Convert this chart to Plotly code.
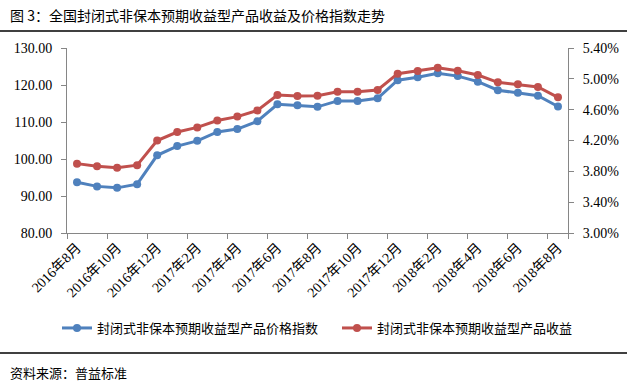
import plotly.graph_objects as go

months = ["2016年8月", "2016年9月", "2016年10月", "2016年11月", "2016年12月",
          "2017年1月", "2017年2月", "2017年3月", "2017年4月", "2017年5月",
          "2017年6月", "2017年7月", "2017年8月", "2017年9月", "2017年10月",
          "2017年11月", "2017年12月", "2018年1月", "2018年2月", "2018年3月",
          "2018年4月", "2018年5月", "2018年6月", "2018年7月", "2018年8月"]

price_index = [93.7, 92.6, 92.2, 93.2, 101.0, 103.5, 104.9, 107.3, 108.1, 110.2,
               114.8, 114.5, 114.1, 115.7, 115.7, 116.4, 121.3, 122.1, 123.2, 122.4,
               120.9, 118.6, 117.9, 117.1, 114.2]

yield_pct = [3.90, 3.865, 3.845, 3.88, 4.20, 4.31, 4.37, 4.46, 4.51, 4.59,
             4.79, 4.777, 4.78, 4.833, 4.833, 4.855, 5.067, 5.102, 5.144, 5.105,
             5.05, 4.955, 4.929, 4.894, 4.76]

tick_labels = months[::2]

name_index = "封闭式非保本预期收益型产品价格指数"
name_yield = "封闭式非保本预期收益型产品收益"
title_text = "图 3：全国封闭式非保本预期收益型产品收益及价格指数走势"
source_text = "资料来源：普益标准"

BLUE = "#4F81BD"
RED = "#C0504D"
AXIS = "#868686"
SERIF = "Liberation Serif, Noto Sans CJK SC"
CJK = "Noto Sans CJK SC"

fig = go.Figure()
fig.add_trace(go.Scatter(x=months, y=price_index, name=name_index, mode="lines+markers",
                         line=dict(color=BLUE, width=3), marker=dict(size=8, color=BLUE),
                         yaxis="y"))
fig.add_trace(go.Scatter(x=months, y=yield_pct, name=name_yield, mode="lines+markers",
                         line=dict(color=RED, width=3), marker=dict(size=8, color=RED),
                         yaxis="y2"))

W, H = 644, 387
L, R, T, B = 67, 568, 48, 233
pw, ph = R - L, B - T


def px(x):
    return (x - L) / pw


def py(y):
    return (B - y) / ph


fig.update_layout(
    width=W, height=H,
    margin=dict(l=L, r=W - R, t=T, b=H - B),
    plot_bgcolor="white", paper_bgcolor="white",
    showlegend=True,
    xaxis=dict(type="category", categoryorder="array", categoryarray=months,
               range=[-0.5, 24.5], tickmode="array", tickvals=tick_labels,
               ticktext=tick_labels, tickson="boundaries", ticks="outside",
               ticklen=5, tickcolor=AXIS, showline=True, linecolor=AXIS, linewidth=1,
               showgrid=False, zeroline=False, tickangle=-45, automargin=False,
               tickfont=dict(family=SERIF, size=14, color="black")),
    yaxis=dict(range=[80, 130], dtick=10, tick0=80, tickformat=".2f",
               ticks="outside", ticklen=5, tickcolor=AXIS, showline=True,
               linecolor=AXIS, linewidth=1, showgrid=False, zeroline=False,
               ticklabelstandoff=6, automargin=False,
               tickfont=dict(family=SERIF, size=14, color="black")),
    yaxis2=dict(range=[3.0, 5.4], dtick=0.4, tick0=3.0, tickformat=".2f",
                ticksuffix="%", overlaying="y", side="right",
                ticks="outside", ticklen=5, tickcolor=AXIS, showline=True,
                linecolor=AXIS, linewidth=1, showgrid=False, zeroline=False,
                ticklabelstandoff=6, automargin=False,
                tickfont=dict(family=SERIF, size=14, color="black")),
    legend=dict(orientation="h", x=px(57), xanchor="left", y=py(328), yanchor="middle",
                font=dict(family=CJK, size=13, color="black"),
                entrywidth=235, entrywidthmode="pixels", bgcolor="rgba(0,0,0,0)",
                borderwidth=0, itemclick=False),
    annotations=[
        dict(text=title_text, xref="paper", yref="paper", x=px(8), y=py(15),
             xanchor="left", yanchor="middle", showarrow=False,
             font=dict(family=CJK, size=14, color="black")),
        dict(text=source_text, xref="paper", yref="paper", x=px(8), y=py(372),
             xanchor="left", yanchor="middle", showarrow=False,
             font=dict(family=CJK, size=13, color="black")),
    ],
    shapes=[
        dict(type="line", xref="paper", yref="paper", x0=px(0), x1=px(627),
             y0=py(31), y1=py(31), line=dict(color="black", width=1.5)),
        dict(type="line", xref="paper", yref="paper", x0=px(0), x1=px(627),
             y0=py(353), y1=py(353), line=dict(color="black", width=1.5)),
    ],
)

fig.write_html("out.html", config={"displayModeBar": False},
               post_script="document.body.style.margin='0';")
